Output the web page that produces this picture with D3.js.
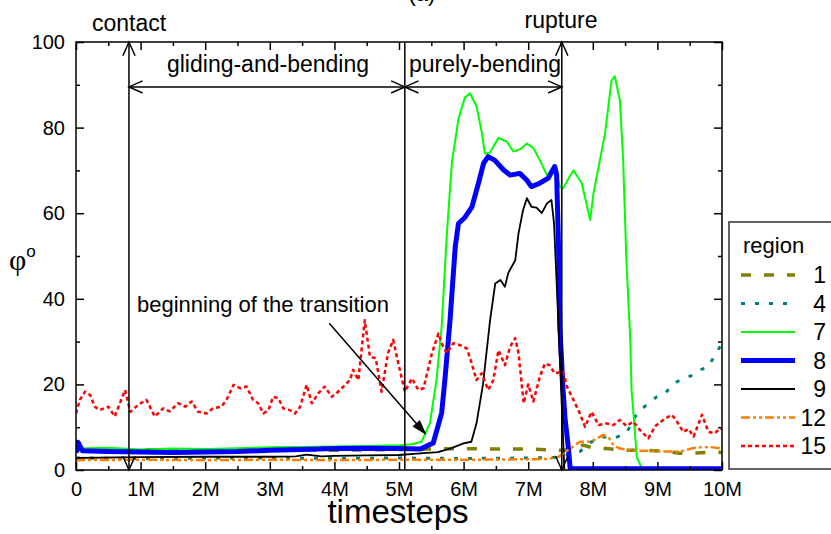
<!DOCTYPE html>
<html>
<head>
<meta charset="utf-8">
<script src="https://d3js.org/d3.v7.min.js"></script>
<style>
body{margin:0;background:#fff;}
svg{font-family:"Liberation Sans",Arial,sans-serif;}
.axis path{stroke:none;}
.axis line{stroke:#000;stroke-width:1.5;}
.axis text{font-size:20px;fill:#000;}
</style>
</head>
<body>
<div id="chart"></div>
<script>
// time in millions of timesteps, angle in degrees
var xTicks=[0,1,2,3,4,5,6,7,8,9,10];
var xTickLabels=["0","1M","2M","3M","4M","5M","6M","7M","8M","9M","10M"];
var yTicks=[0,20,40,60,80,100];
var regions=["1","4","7","8","9","12","15"];

var r1=[[0,4.7],[0.5,4.6],[1,4.8],[1.5,4.5],[2,4.6],[2.5,4.5],[3,4.6],[3.5,4.7],[4,4.6],[4.5,4.7],[5,4.8],[5.5,4.9],[6,5],[6.5,4.9],[7,4.9],[7.5,4.6],[7.7,4.8],[7.85,5.8],[8,5.2],[8.21,5],[8.52,4.6],[8.8,4.6],[9.1,4.4],[9.35,3.9],[9.6,4],[9.89,4.2],[10,4.1]];
var r4=[[0,2.8],[1,2.7],[2,2.8],[3,2.8],[4,2.7],[5,2.8],[6,2.7],[7,2.8],[7.5,3],[7.8,4.3],[7.96,6.4],[8.14,7.8],[8.32,7.4],[8.52,8.6],[8.68,13.2],[8.83,15.2],[8.99,17.1],[9.12,17.9],[9.25,20.2],[9.4,21.4],[9.52,22],[9.66,23.4],[9.79,24.1],[9.89,26.9],[9.97,28.8],[10,29.5]];
var r7=[[0,5],[0.5,5.2],[1,4.8],[1.5,5],[2,4.9],[2.5,5.1],[3,5.3],[3.5,5.4],[4,5.5],[4.5,5.6],[5,5.8],[5.2,6],[5.35,6.6],[5.48,11],[5.58,21],[5.66,33.5],[5.74,55],[5.82,72],[5.92,82],[6.02,87],[6.1,88],[6.2,85],[6.28,79],[6.33,74],[6.4,74],[6.54,77.6],[6.67,76.7],[6.77,74.4],[6.88,75],[6.98,76.3],[7.08,75.2],[7.18,72.4],[7.29,68.9],[7.41,70.9],[7.49,66.2],[7.54,65.8],[7.62,68],[7.7,70],[7.83,67],[7.96,58.4],[8.01,64.6],[8.11,72.4],[8.19,78.7],[8.29,91],[8.34,92],[8.42,86.4],[8.47,72.4],[8.52,49],[8.58,30.4],[8.6,18.7],[8.63,13.2],[8.68,3.1],[8.77,0]];
var r8=[[0,4],[0.03,6.5],[0.1,4.5],[0.5,4.3],[1,4.2],[1.5,4.1],[2,4.2],[2.5,4.3],[3,4.6],[3.5,4.8],[4,5],[4.5,5.1],[5,5],[5.33,4.9],[5.53,6.3],[5.66,13.3],[5.71,21],[5.79,35],[5.87,52],[5.92,57.6],[6.02,59],[6.13,61.5],[6.23,67],[6.31,71.7],[6.38,73.2],[6.48,72.4],[6.62,70.1],[6.72,68.9],[6.87,69.3],[6.98,67.7],[7.05,66.2],[7.18,67],[7.31,68.2],[7.41,70.9],[7.44,69],[7.47,52],[7.49,33.5],[7.54,18.7],[7.57,12],[7.62,5.5],[7.65,0.3],[10,0.3]];
var r9=[[0,2.8],[1,3],[2,3.1],[3,3.1],[3.4,3.2],[3.57,3.6],[3.8,3.2],[4,3.3],[4.5,3.4],[5,3.5],[5.33,3.9],[5.6,4.2],[5.79,5],[6,6.2],[6.12,6.6],[6.2,10.9],[6.3,20],[6.41,35],[6.49,43.6],[6.57,44.4],[6.64,42.8],[6.69,46],[6.8,49],[6.85,55.3],[6.92,60.7],[6.98,63.5],[7.05,61.5],[7.13,61.3],[7.21,60],[7.29,62.3],[7.36,63.1],[7.4,57.6],[7.47,33.5],[7.52,15],[7.56,0]];
var r12=[[0,2.3],[1,2.4],[2,2.3],[3,2.4],[4,2.3],[5,2.4],[6,2.4],[7,2.5],[7.3,2.6],[7.47,3.1],[7.62,4.7],[7.8,6.6],[7.98,6.6],[8.16,8.2],[8.25,7.5],[8.32,5.8],[8.42,5],[8.63,4.5],[8.93,4.5],[9.14,4.3],[9.35,4.3],[9.58,5.2],[9.8,5.4],[10,5]];
var r15=[[0,13.2],[0.06,16.4],[0.14,18.3],[0.22,17.5],[0.29,14.8],[0.37,14],[0.5,14.8],[0.6,12.5],[0.68,15.6],[0.76,18.7],[0.84,13.6],[0.96,15.2],[1.09,16.4],[1.22,12.5],[1.35,14.4],[1.45,13.7],[1.58,15.6],[1.69,14.8],[1.79,16],[1.89,13.6],[2.02,13.2],[2.12,14.4],[2.25,14.8],[2.33,16.4],[2.44,19.9],[2.54,19.1],[2.64,19.5],[2.74,16.4],[2.82,15.6],[2.9,13.2],[2.98,14],[3.05,17.1],[3.13,16.8],[3.21,14.4],[3.31,14],[3.39,13.2],[3.47,14.8],[3.57,19.9],[3.65,15.6],[3.75,17.9],[3.85,19.5],[3.96,17.1],[4.03,17.9],[4.14,19.5],[4.24,21],[4.29,23.4],[4.37,21],[4.47,35],[4.55,26.5],[4.64,26.1],[4.73,18.3],[4.83,27.3],[4.91,30.4],[4.99,24.9],[5.09,18.3],[5.2,21.4],[5.3,18.7],[5.38,19.1],[5.51,27.3],[5.61,31.9],[5.66,29.6],[5.74,27.3],[5.84,29.6],[5.94,29.2],[6.05,28.4],[6.12,25.2],[6.2,21],[6.28,22.6],[6.38,18.7],[6.46,21],[6.54,28],[6.64,24.5],[6.72,28.8],[6.8,30.8],[6.85,27.3],[6.93,15.6],[7,20],[7.08,16],[7.18,21.8],[7.26,24.9],[7.33,24.5],[7.41,22.6],[7.54,23],[7.6,19.5],[7.7,16.4],[7.8,13.2],[7.88,10.1],[7.98,13.6],[8.09,10.5],[8.21,10.9],[8.32,10.5],[8.42,11.7],[8.52,10.3],[8.63,11.3],[8.73,9.3],[8.86,7.4],[8.97,10.3],[9.09,11.7],[9.22,12.9],[9.29,11.7],[9.4,8.9],[9.48,9.6],[9.56,7.8],[9.69,12.9],[9.79,8.9],[9.89,8.6],[9.97,9.7],[10,9.5]];

var series=[
	{name:"1",data:r1,color:"#808000",width:3.5,dash:"10,13"},
	{name:"4",data:r4,color:"#008080",width:3,dash:"4,10"},
	{name:"7",data:r7,color:"#00ff00",width:2,dash:null},
	{name:"8",data:r8,color:"#0000ff",width:5,dash:null},
	{name:"9",data:r9,color:"#000000",width:1.8,dash:null},
	{name:"12",data:r12,color:"#ff8000",width:2.5,dash:"9,3,3,3,3,3"},
	{name:"15",data:r15,color:"#ff0000",width:2.5,dash:"4,3"}
];

(function(){
var W=831,H=534;
var pL=76,pR=722,pT=42,pB=470;

var svg=d3.select("#chart").append("svg").attr("width",W).attr("height",H);
var x=d3.scaleLinear().domain([0,10]).range([pL,pR]);
var y=d3.scaleLinear().domain([0,100]).range([pB,pT]);

svg.append("defs").append("clipPath").attr("id","plotclip")
	.append("rect").attr("x",pL).attr("y",pT-2).attr("width",pR-pL).attr("height",pB-pT+2);

//***************************
//LINES
//***************************
var line=d3.line().x(function(d){return x(d[0]);}).y(function(d){return y(d[1]);});
var g_lines=svg.append("g").attr("clip-path","url(#plotclip)");
series.forEach(function(s){
	g_lines.append("path")
		.attr("d",line(s.data))
		.attr("fill","none")
		.attr("stroke",s.color)
		.attr("stroke-width",s.width)
		.attr("stroke-dasharray",s.dash)
		.attr("stroke-linejoin","round");
});

//***************************
//AXES
//***************************
var minorX=d3.range(0.5,10,1),minorY=d3.range(10,100,20);
svg.append("g").attr("class","axis").attr("transform","translate(0,"+pB+")")
	.call(d3.axisBottom(x).tickValues(xTicks).tickSizeInner(-8).tickSizeOuter(0).tickPadding(12)
		.tickFormat(function(d,i){return xTickLabels[i];}));
svg.append("g").attr("class","axis").attr("transform","translate(0,"+pB+")")
	.call(d3.axisBottom(x).tickValues(minorX).tickSizeInner(-4).tickSizeOuter(0).tickFormat(""));
svg.append("g").attr("class","axis").attr("transform","translate(0,"+pT+")")
	.call(d3.axisTop(x).tickValues(xTicks).tickSizeInner(-8).tickSizeOuter(0).tickFormat(""));
svg.append("g").attr("class","axis").attr("transform","translate(0,"+pT+")")
	.call(d3.axisTop(x).tickValues(minorX).tickSizeInner(-4).tickSizeOuter(0).tickFormat(""));
svg.append("g").attr("class","axis").attr("transform","translate("+pL+",0)")
	.call(d3.axisLeft(y).tickValues(yTicks).tickSizeInner(-8).tickSizeOuter(0).tickPadding(11));
svg.append("g").attr("class","axis").attr("transform","translate("+pL+",0)")
	.call(d3.axisLeft(y).tickValues(minorY).tickSizeInner(-4).tickSizeOuter(0).tickFormat(""));
svg.append("g").attr("class","axis").attr("transform","translate("+pR+",0)")
	.call(d3.axisRight(y).tickValues(yTicks).tickSizeInner(-8).tickSizeOuter(0).tickFormat(""));
svg.append("g").attr("class","axis").attr("transform","translate("+pR+",0)")
	.call(d3.axisRight(y).tickValues(minorY).tickSizeInner(-4).tickSizeOuter(0).tickFormat(""));

svg.append("rect").attr("x",pL).attr("y",pT).attr("width",pR-pL).attr("height",pB-pT)
	.attr("fill","none").attr("stroke","#000").attr("stroke-width",1.5);

svg.append("text").attr("x",398).attr("y",523).attr("text-anchor","middle")
	.attr("font-size",33).text("timesteps");
var ylab=svg.append("text").attr("x",9).attr("y",270);
ylab.append("tspan").attr("font-family","'Liberation Serif',serif").attr("font-size",30).text("φ");
ylab.append("tspan").attr("font-size",17).attr("dy",-13).text("o");
svg.append("text").attr("x",422).attr("y",1).attr("text-anchor","middle").attr("font-size",22).text("(a)");

//***************************
//ANNOTATIONS
//***************************
var g_ann=svg.append("g").attr("stroke","#000").attr("stroke-width",1.5).attr("fill","none");
function head(px,py,ang){
	// open arrowhead pointing in direction ang (radians) with tip at px,py
	var L=15,a=0.42;
	var p1=[px-L*Math.cos(ang-a),py-L*Math.sin(ang-a)];
	var p2=[px-L*Math.cos(ang+a),py-L*Math.sin(ang+a)];
	g_ann.append("path").attr("d","M"+p1+"L"+px+","+py+"L"+p2);
}
var tContact=0.82,tBend=5.09,tRupture=7.52,vArrow=89.5;
[tContact,tBend,tRupture].forEach(function(t){
	g_ann.append("line").attr("x1",x(t)).attr("x2",x(t)).attr("y1",y(100)).attr("y2",y(0));
});
[tContact,tRupture].forEach(function(t){
	head(x(t),y(100),-Math.PI/2);
	head(x(t),y(0),Math.PI/2);
});
g_ann.append("line").attr("x1",x(tContact)).attr("x2",x(tRupture)).attr("y1",y(vArrow)).attr("y2",y(vArrow));
head(x(tContact),y(vArrow),Math.PI);
head(x(tBend),y(vArrow),0);
head(x(tBend),y(vArrow),Math.PI);
head(x(tRupture),y(vArrow),0);

var ax0=[x(3.92),y(34.3)],ax1=[x(5.4),y(8.6)];
g_ann.append("line").attr("x1",ax0[0]).attr("y1",ax0[1]).attr("x2",ax1[0]).attr("y2",ax1[1]);
var ang=Math.atan2(ax1[1]-ax0[1],ax1[0]-ax0[0]);
g_ann.append("path").attr("fill","#000")
	.attr("d","M"+ax1+"L"+[ax1[0]-13*Math.cos(ang-0.3),ax1[1]-13*Math.sin(ang-0.3)]+"L"+[ax1[0]-13*Math.cos(ang+0.3),ax1[1]-13*Math.sin(ang+0.3)]+"Z");

var g_txt=svg.append("g").attr("font-size",23).attr("fill","#000");
g_txt.append("text").attr("x",92).attr("y",31).text("contact");
g_txt.append("text").attr("x",561).attr("y",28).attr("text-anchor","middle").text("rupture");
g_txt.append("text").attr("x",268).attr("y",72).attr("text-anchor","middle").text("gliding-and-bending");
g_txt.append("text").attr("x",485).attr("y",72).attr("text-anchor","middle").text("purely-bending");
g_txt.append("text").attr("x",137).attr("y",312).attr("font-size",22).text("beginning of the transition");

//***************************
//LEGEND
//***************************
var g_leg=svg.append("g");
g_leg.append("rect").attr("x",729).attr("y",222).attr("width",120).attr("height",247)
	.attr("fill","#fff").attr("stroke","#333").attr("stroke-width",1.5);
g_leg.append("text").attr("x",743).attr("y",253).attr("font-size",22).text("region");
var legY=d3.scalePoint().domain(regions).range([275,446]);
series.forEach(function(s){
	var yy=legY(s.name);
	g_leg.append("line").attr("x1",741).attr("x2",795).attr("y1",yy).attr("y2",yy)
		.attr("stroke",s.color).attr("stroke-width",s.width).attr("stroke-dasharray",s.dash);
	g_leg.append("text").attr("x",826).attr("y",yy).attr("dy","0.35em").attr("text-anchor","end")
		.attr("font-size",23).text(s.name);
});
})();
</script>
</body>
</html>
